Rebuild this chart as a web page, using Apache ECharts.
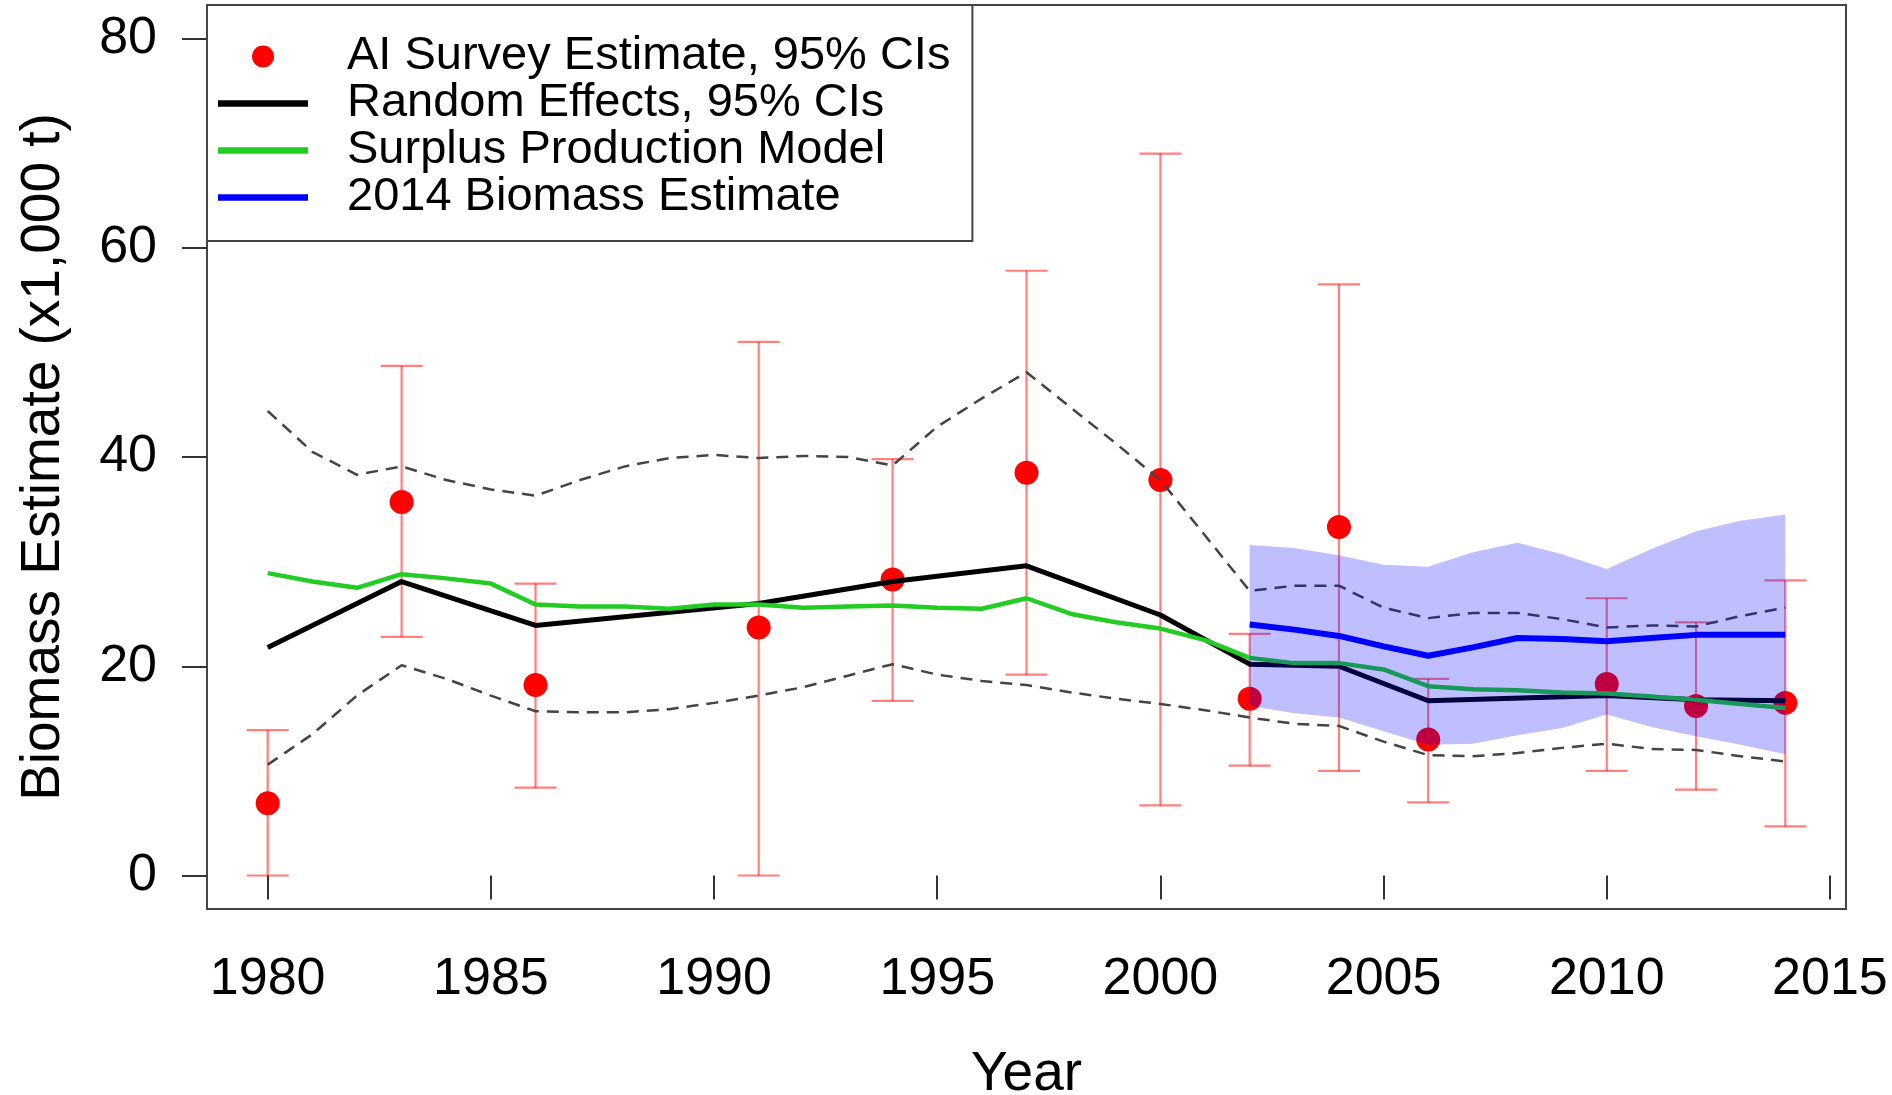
<!DOCTYPE html>
<html><head><meta charset="utf-8">
<script src="https://cdn.jsdelivr.net/npm/echarts@6/dist/echarts.min.js"></script>
<style>html,body{margin:0;padding:0;background:#fff}#c{width:1892px;height:1095px}</style>
</head><body><div id="c"></div>
<script>
// ---- data ----
const surveyYears = [1980,1983,1986,1991,1994,1997,2000,2002,2004,2006,2010,2012,2014];
const surveyEst   = [6.9, 35.7, 18.2, 23.7, 28.3, 38.5, 37.8, 16.9, 33.3, 13.0, 18.3, 16.2, 16.5];
const surveyLow   = [0.0, 22.8, 8.4, 0.0, 16.7, 19.2, 6.7, 10.5, 10.0, 7.0, 10.0, 8.2, 4.7];
const surveyHigh  = [13.9, 48.7, 27.9, 51.0, 39.8, 57.8, 69.0, 23.1, 56.5, 18.8, 26.5, 24.2, 28.2];
const reMean      = [21.8, 28.1, 23.9, 26.0, 28.1, 29.6, 24.9, 20.2, 20.0, 16.7, 17.2, 16.8, 16.7];

const modelYears = [1980,1981,1982,1983,1984,1985,1986,1987,1988,1989,1990,1991,1992,1993,1994,1995,1996,1997,1998,1999,2000,2001,2002,2003,2004,2005,2006,2007,2008,2009,2010,2011,2012,2013,2014];
const reUpper = [44.4,40.5,38.3,39.1,37.8,36.9,36.3,37.8,39.1,39.9,40.2,39.9,40.1,40.0,39.2,42.9,45.6,48.1,44.7,41.3,37.8,32.5,27.2,27.7,27.7,25.6,24.6,25.1,25.1,24.5,23.7,23.9,23.8,24.8,25.6];
const reLower = [10.6,13.5,17.2,20.1,18.8,17.2,15.7,15.6,15.6,15.9,16.5,17.2,18.0,19.1,20.2,19.2,18.6,18.2,17.5,16.9,16.4,15.8,15.1,14.5,14.3,12.8,11.5,11.4,11.7,12.2,12.6,12.1,12.0,11.4,10.9];
const spmBiomass = [28.9,28.1,27.5,28.8,28.4,27.9,25.9,25.7,25.7,25.5,25.9,25.9,25.6,25.7,25.8,25.6,25.5,26.5,25.0,24.2,23.6,22.5,20.8,20.3,20.3,19.7,18.1,17.8,17.7,17.5,17.4,17.1,16.8,16.4,16.0];

const estYears = [2002,2003,2004,2005,2006,2007,2008,2009,2010,2011,2012,2013,2014];
const est2014     = [24.0,23.5,22.9,21.9,21.0,21.8,22.7,22.6,22.4,22.7,23.0,23.0,23.0];
const est2014Low  = [16.2,15.5,15.1,13.8,12.5,12.6,13.4,14.1,15.4,14.2,13.3,12.5,11.6];
const est2014High = [31.6,31.3,30.6,29.7,29.5,30.9,31.8,30.7,29.3,31.2,32.9,33.9,34.5];

const xTicks = [1980,1985,1990,1995,2000,2005,2010,2015];
const yTicks = [0,20,40,60,80];

const names = ['AI Survey Estimate, 95% CIs','Random Effects, 95% CIs','Surplus Production Model','2014 Biomass Estimate'];

// ---- chart ----
const zip = (xs, ys) => xs.map((x, i) => [x, ys[i]]);
const FONT = 'Liberation Sans, Arial, Helvetica, sans-serif';
const chart = echarts.init(document.getElementById('c'), null, {renderer: 'canvas'});
const linePath = 'path://M0 0H100V7H0Z';
const plain = v => String(v);

chart.setOption({
  animation: false,
  backgroundColor: '#fff',
  textStyle: {fontFamily: FONT, color: '#000'},
  grid: {left: 207, right: 46, top: 5, bottom: 186, show: true, borderColor: '#444', borderWidth: 2, backgroundColor: '#fff', outerBoundsMode: 'none'},
  legend: {
    left: 207, top: 5, orient: 'vertical', selectedMode: false,
    itemGap: 0, itemWidth: 90, itemHeight: 22,
    borderColor: '#444', borderWidth: 2, backgroundColor: '#fff',
    padding: [28, 22, 20, 11],
    textStyle: {fontSize: 47, fontFamily: FONT, color: '#000', lineHeight: 46.5, padding: [0, 0, 0, 34]},
    data: [
      {name: names[0], icon: 'circle', itemStyle: {color: '#ff0000'}},
      {name: names[1], icon: linePath, itemStyle: {color: '#000000'}},
      {name: names[2], icon: linePath, itemStyle: {color: '#22cc22'}},
      {name: names[3], icon: linePath, itemStyle: {color: '#0000ff'}}
    ]
  },
  xAxis: {
    type: 'value', min: 1978.64, max: 2015.36,
    name: 'Year', nameLocation: 'middle', nameGap: 138,
    nameTextStyle: {fontSize: 55, fontFamily: FONT, color: '#000'},
    axisLine: {show: false},
    splitLine: {show: false},
    axisTick: {show: true, customValues: xTicks, length: 24, lineStyle: {color: '#333', width: 2}},
    axisLabel: {customValues: xTicks, formatter: plain, fontSize: 52, margin: 45, color: '#000', fontFamily: FONT}
  },
  yAxis: {
    type: 'value', min: -3.2, max: 83.2,
    name: 'Biomass Estimate (x1,000 t)', nameLocation: 'middle', nameGap: 136,
    nameTextStyle: {fontSize: 55, fontFamily: FONT, color: '#000'},
    axisLine: {show: false},
    splitLine: {show: false},
    axisTick: {show: true, customValues: yTicks, length: 25, lineStyle: {color: '#333', width: 2}},
    axisLabel: {customValues: yTicks, formatter: plain, fontSize: 52, margin: 50, color: '#000', fontFamily: FONT}
  },
  series: [
    {
      type: 'custom', name: 'errorbars', z: 2, silent: true,
      data: surveyYears.map((y, i) => [y, surveyLow[i], surveyHigh[i]]),
      encode: {x: 0, y: [1, 2]},
      renderItem: function (params, api) {
        const x = api.value(0);
        const lo = api.coord([x, api.value(1)]);
        const hi = api.coord([x, api.value(2)]);
        const hw = 21;
        const st = {stroke: 'rgba(255,0,0,0.5)', lineWidth: 2.2};
        return {type: 'group', children: [
          {type: 'line', shape: {x1: lo[0], y1: lo[1], x2: hi[0], y2: hi[1]}, style: st},
          {type: 'line', shape: {x1: lo[0] - hw, y1: lo[1], x2: lo[0] + hw, y2: lo[1]}, style: st},
          {type: 'line', shape: {x1: hi[0] - hw, y1: hi[1], x2: hi[0] + hw, y2: hi[1]}, style: st}
        ]};
      }
    },
    {
      type: 'scatter', name: names[0], z: 3, symbol: 'circle', symbolSize: 24,
      itemStyle: {color: '#ff0000', opacity: 1}, color: '#ff0000',
      data: zip(surveyYears, surveyEst)
    },
    {
      type: 'line', name: names[1], z: 4, showSymbol: false, symbol: 'none', color: '#000000',
      lineStyle: {color: '#000000', width: 5}, data: zip(surveyYears, reMean)
    },
    {
      type: 'line', name: names[2], z: 5, showSymbol: false, symbol: 'none', color: '#22cc22',
      lineStyle: {color: '#22cc22', width: 4.5}, data: zip(modelYears, spmBiomass)
    },
    {
      type: 'line', name: 'reUpper', z: 6, showSymbol: false, symbol: 'none',
      lineStyle: {color: '#444', width: 2.5, type: [12, 8]}, data: zip(modelYears, reUpper)
    },
    {
      type: 'line', name: 'reLower', z: 6, showSymbol: false, symbol: 'none',
      lineStyle: {color: '#444', width: 2.5, type: [12, 8]}, data: zip(modelYears, reLower)
    },
    {
      type: 'custom', name: 'band', z: 7, silent: true,
      data: estYears.map((y, i) => [y, est2014Low[i], est2014High[i]]),
      encode: {x: 0, y: [1, 2]},
      renderItem: function (params, api) {
        if (params.dataIndexInside !== 0) return null;
        const n = params.dataInsideLength;
        const up = [], dn = [];
        for (let i = 0; i < n; i++) {
          const x = api.value(0, i);
          up.push(api.coord([x, api.value(2, i)]));
          dn.push(api.coord([x, api.value(1, i)]));
        }
        return {type: 'polygon', shape: {points: up.concat(dn.reverse())}, style: {fill: 'rgba(0,0,255,0.25)'}};
      }
    },
    {
      type: 'line', name: names[3], z: 8, showSymbol: false, symbol: 'none', color: '#0000ff',
      lineStyle: {color: '#0000ff', width: 6}, data: zip(estYears, est2014)
    }
  ]
});
</script></body></html>
